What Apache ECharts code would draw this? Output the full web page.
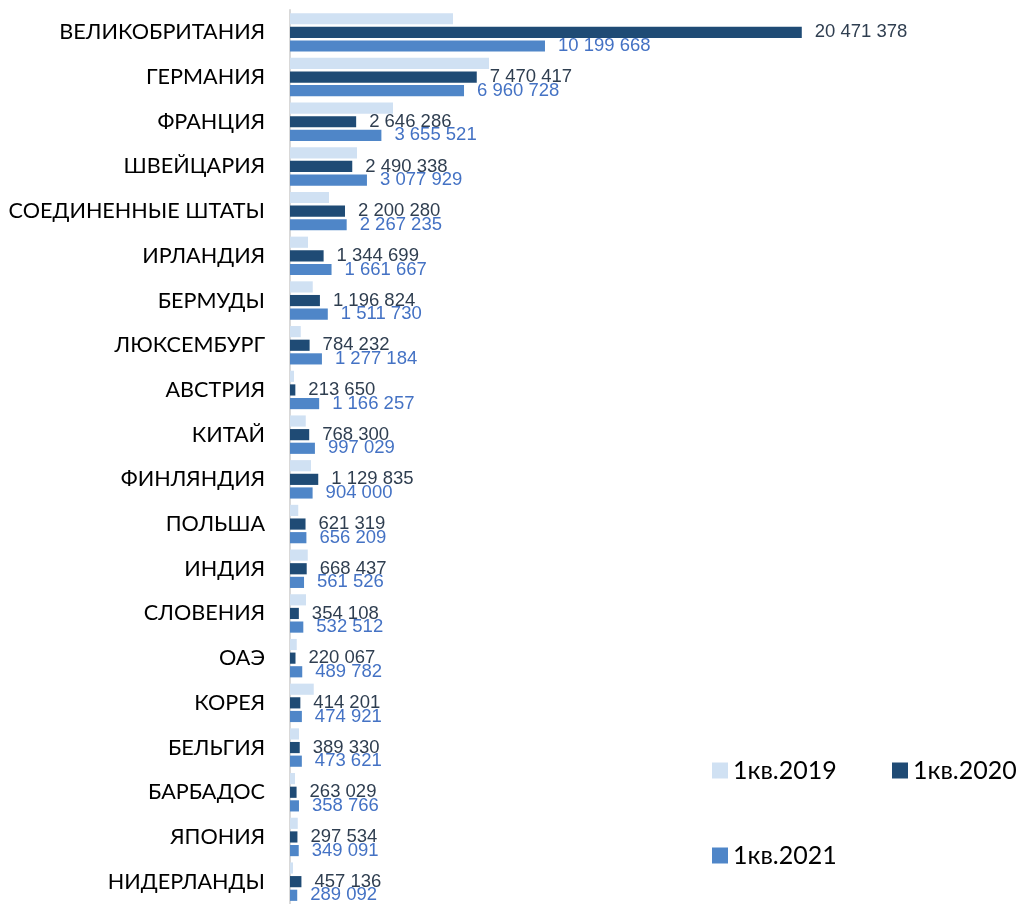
<!DOCTYPE html>
<html>
<head>
<meta charset="utf-8">
<script src="https://cdn.jsdelivr.net/npm/echarts@6/dist/echarts.min.js"></script>
<style>
  html, body { margin: 0; padding: 0; background: #fff; }
  #chart { width: 1020px; height: 904px; }
</style>
</head>
<body>
<div id="chart"></div>
<script>
var countries = ['ВЕЛИКОБРИТАНИЯ', 'ГЕРМАНИЯ', 'ФРАНЦИЯ', 'ШВЕЙЦАРИЯ', 'СОЕДИНЕННЫЕ ШТАТЫ',
  'ИРЛАНДИЯ', 'БЕРМУДЫ', 'ЛЮКСЕМБУРГ', 'АВСТРИЯ', 'КИТАЙ', 'ФИНЛЯНДИЯ', 'ПОЛЬША',
  'ИНДИЯ', 'СЛОВЕНИЯ', 'ОАЭ', 'КОРЕЯ', 'БЕЛЬГИЯ', 'БАРБАДОС', 'ЯПОНИЯ', 'НИДЕРЛАНДЫ'];

// 1кв.2019 has no labels
var q2019 = [6520000, 7960000, 4120000, 2680000, 1560000, 720000, 910000, 430000, 160000, 630000,
  840000, 330000, 710000, 640000, 270000, 950000, 360000, 200000, 310000, 120000];
var q2020 = [20471378, 7470417, 2646286, 2490338, 2200280, 1344699, 1196824, 784232, 213650, 768300,
  1129835, 621319, 668437, 354108, 220067, 414201, 389330, 263029, 297534, 457136];
var q2021 = [10199668, 6960728, 3655521, 3077929, 2267235, 1661667, 1511730, 1277184, 1166257, 997029,
  904000, 656209, 561526, 532512, 489782, 474921, 473621, 358766, 349091, 289092];

var seriesNames = ['1кв.2019', '1кв.2020', '1кв.2021'];

function fmt(v) {
  return String(v).replace(/\B(?=(\d{3})+(?!\d))/g, ' ');
}

var chart = echarts.init(document.getElementById('chart'));

function barLabel(color) {
  return {
    show: true,
    position: 'right',
    distance: 13,
    color: color,
    fontSize: 18.5,
    fontFamily: 'Liberation Sans, Arial, sans-serif',
    formatter: function (p) { return fmt(p.value); }
  };
}

// one legend block per entry, placed like the original two-column layout
function legendItem(name, left, top) {
  return {
    data: [name],
    left: left, top: top, padding: 0,
    icon: 'rect', itemWidth: 16, itemHeight: 16,
    textStyle: { fontSize: 25, color: '#000', fontFamily: 'Lato, sans-serif' }
  };
}

var option = {
  animation: false,
  grid: { left: 290, right: 30, top: 10, bottom: 0 },
  legend: [
    legendItem(seriesNames[0], 712, 758),
    legendItem(seriesNames[1], 892, 758),
    legendItem(seriesNames[2], 712, 843)
  ],
  xAxis: {
    type: 'value', min: 0, max: 28000000,
    show: false
  },
  yAxis: {
    type: 'category',
    inverse: true,
    data: countries,
    axisTick: { show: false },
    axisLine: { lineStyle: { color: '#d9d9d9', width: 2 } },
    axisLabel: {
      margin: 25, fontSize: 21.6, color: '#000',
      fontFamily: 'Lato, sans-serif'
    }
  },
  series: [
    {
      name: seriesNames[0], type: 'bar', data: q2019,
      barCategoryGap: '14%', barGap: '22%',
      itemStyle: { color: '#d0e1f3' }
    },
    {
      name: seriesNames[1], type: 'bar', data: q2020,
      barCategoryGap: '14%', barGap: '22%',
      itemStyle: { color: '#1f4b75' },
      label: barLabel('#2f3e50')
    },
    {
      name: seriesNames[2], type: 'bar', data: q2021,
      barCategoryGap: '14%', barGap: '22%',
      itemStyle: { color: '#4f86c8' },
      label: barLabel('#4472c4')
    }
  ]
};

chart.setOption(option);
</script>
</body>
</html>
